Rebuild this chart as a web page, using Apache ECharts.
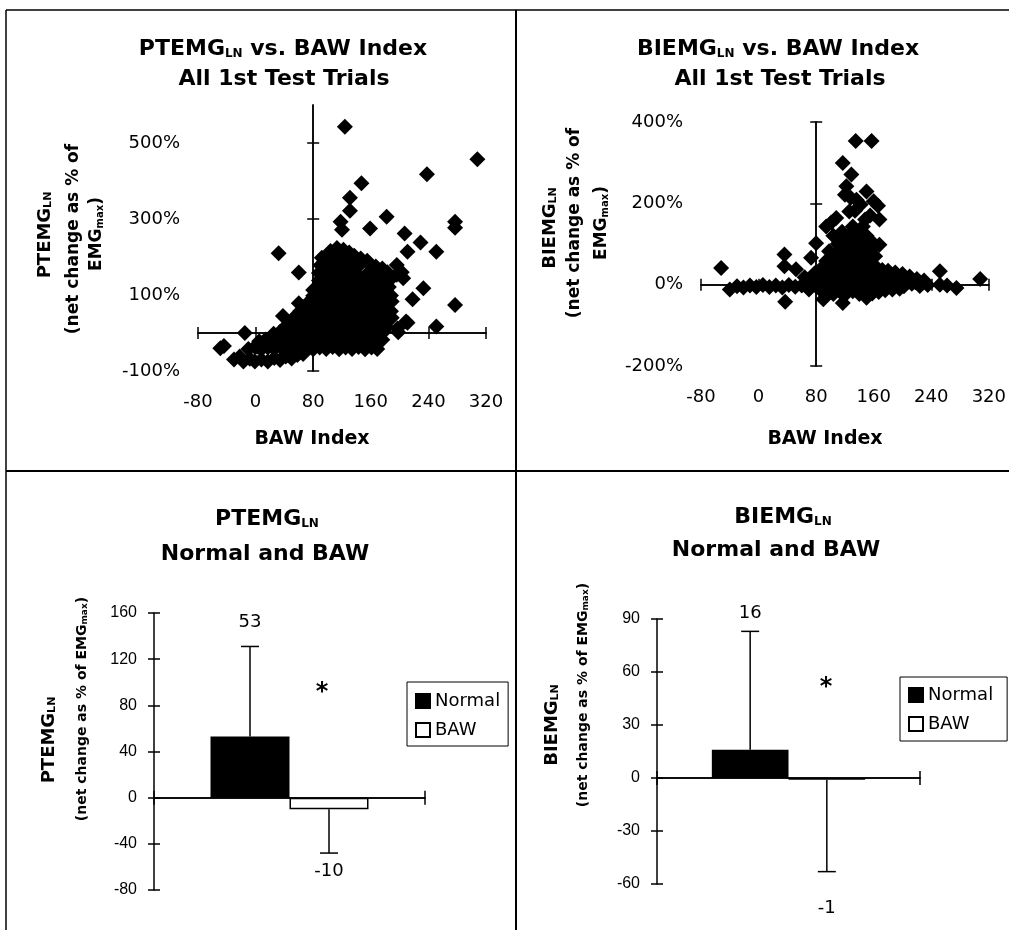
<!DOCTYPE html>
<html>
<head>
<meta charset="utf-8">
<title>EMG LN vs BAW</title>
<script src="https://cdn.jsdelivr.net/npm/echarts@6/dist/echarts.min.js"></script>
<style>
html,body{margin:0;padding:0;background:#fff;}
#main{width:1009px;height:930px;}
</style>
</head>
<body>
<div id="main"></div>
<script>
// 刻度
var xTicks = [-80, 0, 80, 160, 240, 320];
var ptYTicks = [-100, 100, 300, 500];
var biYTicks = [-200, 0, 200, 400];
var ptBarTicks = [-80, -40, 0, 40, 80, 120, 160];
var biBarTicks = [-60, -30, 0, 30, 60, 90];

// 柱状图数据
var groups = ['Normal', 'BAW'];
var ptMean = [53, -10];
var ptSD = [78, 38];
var biMean = [16, -1];
var biSD = [67, 52];

// PTEMG散点 [BAW Index, %]
var ptemgPts = [
  [124,543],[308,457],[238,418],[147,394],[131,356],[131,322],[182,306],[118,293],[120,272],[159,275],
  [277,293],[277,277],[207,262],[229,238],[211,214],[251,214],[32,210],[60,159],[196,179],[233,118],
  [218,89],[277,74],[251,17],[209,30],[197,12],[189,40],[60,78],[38,45],[80,113],[-49,-40],
  [-15,0],[-17,-75],[2,-36],[196,153],[205,144],[203,160],[211,27],[198,2],[-44,-34],[10,-27],[24,-10],
  [104,216],[113,224],[122,219],[130,212],
  [92,198],[101,204],[110,196],[119,206],[128,199],[137,203],[146,196],[155,190],
  [90,178],[98,184],[107,176],[116,185],[125,178],[134,183],[143,176],[158,182],[167,175],[176,170],
  [88,158],[96,162],[105,155],[114,163],[123,157],[132,161],[141,154],[156,158],[165,163],[174,155],[183,160],
  [88,138],[97,143],[106,136],[115,142],[124,135],[133,141],[142,137],[151,143],[160,136],[169,142],[178,137],[187,141],
  [86,118],[95,122],[104,116],[113,123],[122,117],[131,121],[140,115],[149,122],[158,118],[167,123],[176,116],[185,121],
  [80,98],[89,103],[98,96],[107,102],[116,97],[125,104],[134,98],[143,102],[152,96],[161,103],[170,97],[179,102],[188,99],
  [72,78],[81,83],[90,76],[99,82],[108,77],[117,84],[126,78],[135,82],[144,76],[153,83],[162,77],[171,82],[180,78],[189,83],
  [62,58],[71,63],[80,57],[89,62],[98,56],[107,63],[116,58],[125,62],[134,56],[143,63],[152,57],[161,62],[170,58],[179,63],[188,57],
  [52,38],[61,43],[70,37],[79,42],[88,36],[97,43],[106,38],[115,42],[124,36],[133,43],[142,37],[151,42],[160,38],[169,43],[178,37],[185,42],
  [42,18],[51,23],[60,17],[69,22],[78,16],[87,23],[96,18],[105,22],[114,16],[123,23],[132,17],[141,22],[150,18],[159,23],[168,16],[177,22],[182,15],
  [25,-2],[34,3],[43,-3],[52,2],[61,-2],[70,3],[79,-3],[88,2],[97,-2],[106,3],[115,-3],[124,2],[133,-2],[142,3],[151,-3],[160,2],[169,-2],[178,3],
  [5,-22],[14,-17],[23,-23],[32,-18],[41,-22],[50,-17],[59,-23],[68,-18],[77,-22],[86,-17],[95,-23],[104,-18],[113,-22],[122,-17],[131,-23],[140,-18],[149,-22],[158,-17],[167,-23],[176,-18],
  [-10,-42],[-1,-37],[8,-43],[17,-38],[26,-42],[35,-37],[44,-43],[53,-38],[62,-42],[71,-37],[80,-43],[89,-38],[98,-42],[107,-37],[116,-43],[125,-38],[134,-42],[143,-37],[152,-43],[161,-38],[169,-42],
  [-30,-70],[-22,-62],[-8,-68],[-1,-75],[8,-70],[17,-75],[26,-66],[34,-71],[42,-62],[50,-67],[58,-58],[66,-55]
];

// BIEMG散点 [BAW Index, %]
var biemgPts = [
  [166,408],[135,353],[157,353],[117,299],[129,271],[122,242],[150,229],[120,221],[136,209],[128,214],
  [142,197],[160,205],[166,194],[126,180],[134,182],[155,170],[168,160],[148,160],[108,164],[101,153],
  [94,143],[131,143],[145,143],[116,130],[140,127],[124,118],[150,120],[136,111],[110,100],[168,98],
  [120,96],[158,104],[104,120],[114,112],[128,100],[146,96],[156,86],[162,70],
  [-52,41],[37,-42],[36,74],[36,45],[52,38],[73,66],[80,102],
  [-40,-12],[-30,-4],[-21,-7],[-12,-2],[-3,-6],[6,-1],[15,-6],[24,-2],[33,-7],[42,-1],[51,-5],[60,-2],
  [64,18],[70,-12],[72,6],[78,28],[80,-4],[84,14],[88,-16],[86,38],
  [98,82],[108,78],[118,86],[128,80],[138,84],[148,78],
  [94,58],[104,64],[114,56],[124,62],[134,58],[144,64],[154,56],
  [92,42],[101,36],[110,44],[119,38],[128,42],[137,36],[146,44],[155,38],[164,42],[172,36],
  [90,22],[99,16],[108,24],[117,18],[126,22],[135,16],[144,24],[153,18],[162,22],[171,16],[180,22],[189,18],
  [92,2],[101,-3],[110,3],[119,-2],[128,4],[137,-3],[146,2],[155,-2],[164,3],[173,-3],[182,2],[191,0],[202,-4],[213,2],[224,-3],[235,-1],
  [95,-18],[104,-23],[113,-17],[122,-22],[131,-16],[140,-23],[149,-17],[158,-22],[167,-18],[176,-14],[186,-12],[196,-10],
  [180,34],[190,30],[200,26],[210,20],[220,14],[230,10],[198,12],[208,8],[218,6],[228,4],
  [117,-45],[90,-36],[150,-32],
  [252,33],[252,0],[275,-8],[308,14],[262,-2]
];

var FONT = 'DejaVu Sans';
var lineSty = {color:'#000', width:1.5};
var X_MIN = -80, X_MAX = 320, X_CROSS = 80, SC_W = 288;

var grids = [], xAxes = [], yAxes = [], series = [], legends = [], graphics = [];

function scatterBox(left, top, height, yMin, yMax, yTicks, pts, name){
	var g = grids.length;
	grids.push({left:left, top:top, width:SC_W, height:height});
	var yLab = yAxes.length;
	yAxes.push({gridIndex:g, type:'value', min:yMin, max:yMax, position:'left',
		axisLine:{show:false, onZero:false}, axisTick:{show:false}, splitLine:{show:false},
		axisLabel:{customValues:yTicks, formatter:'{value}%', margin:18, color:'#000', fontSize:18, fontFamily:FONT}});
	var off = -(X_CROSS - X_MIN) / (X_MAX - X_MIN) * SC_W;
	[false, true].forEach(function(inside){
		yAxes.push({gridIndex:g, type:'value', min:yMin, max:yMax, position:'left', offset:off,
			axisLine:{show:true, onZero:false, lineStyle:lineSty},
			axisTick:{show:true, inside:inside, length:6, customValues:yTicks, lineStyle:lineSty},
			axisLabel:{show:false}, splitLine:{show:false}});
	});
	var xLab = xAxes.length;
	xAxes.push({gridIndex:g, type:'value', min:X_MIN, max:X_MAX, interval:80, position:'bottom',
		axisLine:{show:false, onZero:false}, axisTick:{show:false}, splitLine:{show:false},
		axisLabel:{customValues:xTicks, margin:22, color:'#000', fontSize:18, fontFamily:FONT}});
	[false, true].forEach(function(inside){
		xAxes.push({gridIndex:g, type:'value', min:X_MIN, max:X_MAX, interval:80, position:'bottom',
			axisLine:{show:true, onZero:true, onZeroAxisIndex:yLab, lineStyle:lineSty},
			axisTick:{show:true, inside:inside, length:6, customValues:xTicks, lineStyle:lineSty},
			axisLabel:{show:false}, splitLine:{show:false}});
	});
	series.push({name:name, type:'scatter', xAxisIndex:xLab, yAxisIndex:yLab, symbol:'diamond', symbolSize:16,
		itemStyle:{color:'#000', opacity:1}, emphasis:{disabled:true}, data:pts, z:3, silent:true});
}

var BAR_GAP = 0.417;

function barBox(left, top, width, height, yTicks, means, sds, legendPos, labelGaps){
	var g = grids.length;
	grids.push({left:left, top:top, width:width, height:height});
	var yMin = yTicks[0], yMax = yTicks[yTicks.length-1], step = yTicks[1]-yTicks[0];
	var yLab = yAxes.length;
	yAxes.push({gridIndex:g, type:'value', min:yMin, max:yMax, interval:step, position:'left',
		axisLine:{show:true, onZero:false, lineStyle:lineSty},
		axisTick:{show:true, length:6, lineStyle:lineSty},
		axisLabel:{margin:17, color:'#000', fontSize:16, fontFamily:'Liberation Sans'}, splitLine:{show:false}});
	yAxes.push({gridIndex:g, type:'value', min:yMin, max:yMax, interval:step, position:'left',
		axisLine:{show:false, onZero:false}, axisTick:{show:true, inside:true, length:6, lineStyle:lineSty},
		axisLabel:{show:false}, splitLine:{show:false}});
	var xIdx = xAxes.length;
	[false, true].forEach(function(inside){
		xAxes.push({gridIndex:g, type:'category', data:[''], position:'bottom', boundaryGap:true,
			axisLine:{show:true, onZero:true, onZeroAxisIndex:yLab, lineStyle:lineSty},
			axisTick:{show:true, inside:inside, length:7, lineStyle:lineSty},
			axisLabel:{show:false}, splitLine:{show:false}});
	});
	groups.forEach(function(gname, i){
		series.push({name:gname, type:'bar', xAxisIndex:xIdx, yAxisIndex:yLab,
			barGap:'0%', barCategoryGap:(BAR_GAP*100)+'%',
			itemStyle: i == 0 ? {color:'#000', borderColor:'#000', borderWidth:1.5}
			                  : {color:'#fff', borderColor:'#000', borderWidth:1.5},
			data:[means[i]], silent:true});
	});
	// 误差线 + 均值标注
	series.push({type:'custom', xAxisIndex:xIdx, yAxisIndex:yLab, z:5, silent:true,
		data: means.map(function(m, i){ return [0, m, sds[i], i]; }),
		renderItem: function(params, api){
			var band = api.size([1, 0])[0];
			var barW = band * (1 - BAR_GAP) / 2;
			var i = api.value(3), m = api.value(1), sd = api.value(2);
			var dir = m >= 0 ? 1 : -1;
			var base = api.coord([0, m]);
			var end = api.coord([0, m + dir*sd]);
			var cx = base[0] + (i == 0 ? -barW/2 : barW/2);
			var st = {stroke:'#000', lineWidth:1.5};
			return {type:'group', children:[
				{type:'line', shape:{x1:cx, y1:base[1], x2:cx, y2:end[1]}, style:st},
				{type:'line', shape:{x1:cx-9, y1:end[1], x2:cx+9, y2:end[1]}, style:st},
				{type:'text', x:cx, y:end[1] - dir*labelGaps[i], style:{text:String(m), fill:'#000',
					fontSize:18, fontFamily:FONT, align:'center', verticalAlign:'middle',
					textAlign:'center', textVerticalAlign:'middle'}}
			]};
		}});
	legends.push({data:groups, left:legendPos[0], top:legendPos[1], orient:'vertical', icon:'rect',
		itemWidth:14, itemHeight:14, itemGap:11, padding:legendPos[2], borderColor:'#000', borderWidth:1,
		backgroundColor:'#fff', selectedMode:false,
		textStyle:{color:'#000', fontSize:18, fontFamily:FONT}});
}

function rt(x, y, text, opt){
	opt = opt || {};
	var size = opt.size || 22, sub = opt.sub || 12;
	var w = opt.bold === false ? 'normal' : 'bold';
	return {type:'text', x:x, y:y, rotation:opt.rot || 0, z:10, silent:true,
		style:{text:text, fill:'#000', fontSize:size, fontWeight:w, fontFamily:FONT,
			align:'center', verticalAlign:'middle', textAlign:'center', textVerticalAlign:'middle',
			rich:{
				b:{fontSize:size, fontWeight:w, fontFamily:FONT, fill:'#000', lineHeight:size+4, verticalAlign:'bottom'},
				s:{fontSize:sub, fontWeight:w, fontFamily:FONT, fill:'#000', lineHeight:sub+2, verticalAlign:'bottom'}
			}}};
}
function ln(x1, y1, x2, y2, w){
	return {type:'line', silent:true, shape:{x1:x1, y1:y1, x2:x2, y2:y2}, style:{stroke:'#000', lineWidth:w}};
}

scatterBox(198, 105, 266, -100, 600, ptYTicks, ptemgPts, 'PTEMG');
scatterBox(701, 122, 244, -200, 400, biYTicks, biemgPts, 'BIEMG');
barBox(154, 613, 271, 277, ptBarTicks, ptMean, ptSD, [407, 682, [10, 8, 7, 8]], [24, 18]);
barBox(657, 619, 263, 265, biBarTicks, biMean, biSD, [900, 677, [9, 14, 8, 8]], [18, 37]);

var R = Math.PI / 2;
graphics.push(
	ln(6, 10, 1009, 10, 1.5), ln(6, 10, 6, 930, 1.5), ln(516, 10, 516, 930, 2), ln(6, 471, 1009, 471, 2),
	// 标题
	rt(283, 47, '{b|PTEMG}{s|LN}{b| vs. BAW Index}'),
	rt(284, 77, '{b|All 1st Test Trials}'),
	rt(778, 47, '{b|BIEMG}{s|LN}{b| vs. BAW Index}'),
	rt(780, 77, '{b|All 1st Test Trials}'),
	rt(267, 517, '{b|PTEMG}{s|LN}'),
	rt(265, 552, '{b|Normal and BAW}'),
	rt(783, 515, '{b|BIEMG}{s|LN}'),
	rt(776, 548, '{b|Normal and BAW}'),
	// 坐标轴标题
	rt(312, 437, '{b|BAW Index}', {size:19}),
	rt(825, 437, '{b|BAW Index}', {size:19}),
	rt(43, 235, '{b|PTEMG}{s|LN}', {size:18, sub:11, rot:R}),
	rt(72, 239, '{b|(net change as % of}', {size:17, rot:R}),
	rt(95, 234, '{b|EMG}{s|max}{b|)}', {size:17, sub:10, rot:R}),
	rt(548, 228, '{b|BIEMG}{s|LN}', {size:18, sub:11, rot:R}),
	rt(573, 223, '{b|(net change as % of}', {size:17, rot:R}),
	rt(600, 223, '{b|EMG}{s|max}{b|)}', {size:17, sub:10, rot:R}),
	rt(47, 740, '{b|PTEMG}{s|LN}', {size:18, sub:11, rot:R}),
	rt(80, 709, '{b|(net change as % of EMG}{s|max}{b|)}', {size:14, sub:9, rot:R}),
	rt(550, 725, '{b|BIEMG}{s|LN}', {size:18, sub:11, rot:R}),
	rt(581, 695, '{b|(net change as % of EMG}{s|max}{b|)}', {size:14, sub:9, rot:R}),
	// 显著性
	rt(322, 691, '{b|*}', {size:24}),
	rt(826, 686, '{b|*}', {size:24})
);

var myChart = echarts.init(document.getElementById('main'));
var option = {
	animation:false,
	backgroundColor:'#fff',
	grid:grids,
	xAxis:xAxes,
	yAxis:yAxes,
	legend:legends,
	series:series,
	graphic:{elements:graphics}
};
myChart.setOption(option, true);
</script>
</body>
</html>
